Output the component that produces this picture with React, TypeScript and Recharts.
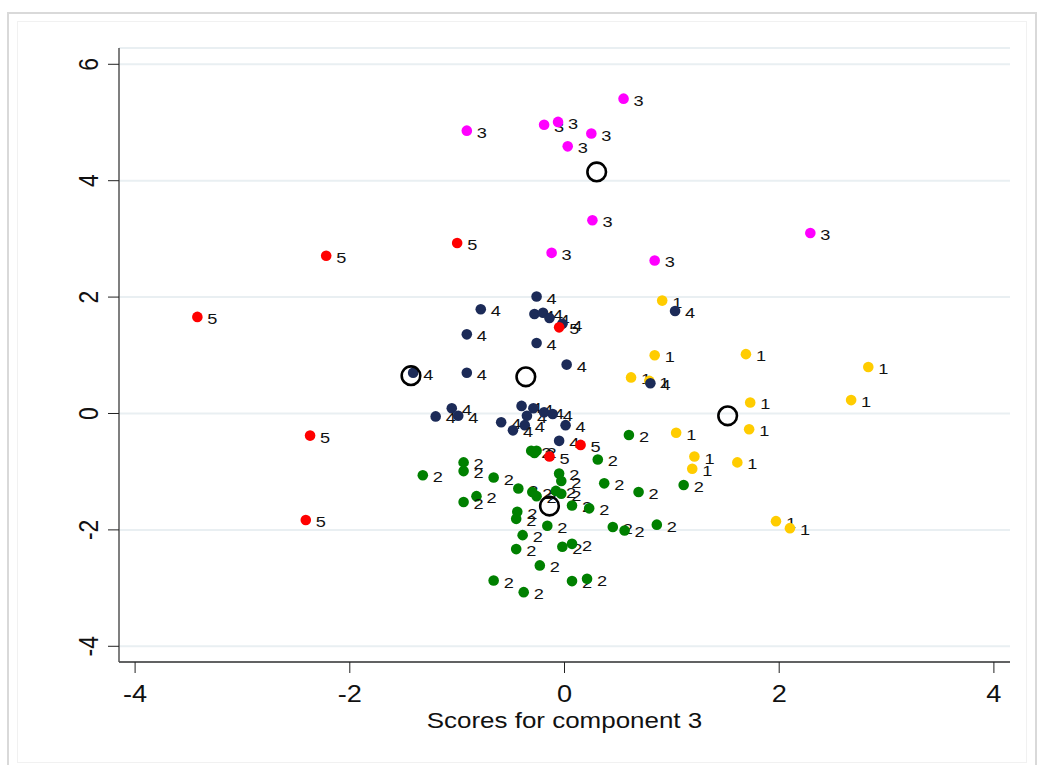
import { CartesianGrid, Scatter, ScatterChart, XAxis, YAxis } from "recharts";

// axis setup
const xTicks = [-4, -2, 0, 2, 4];
const yTicks = [-4, -2, 0, 2, 4, 6];
const xDomain = [-4.15, 4.15];
const yDomain = [-4.27, 6.28];
const xTitle = "Scores for component 3";

// cluster members, [x, y]
const cluster1 = [
  [0.91, 1.94], [0.84, 1.0], [1.69, 1.02], [2.83, 0.8], [0.62, 0.62], [0.79, 0.56],
  [1.73, 0.19], [2.67, 0.23], [1.72, -0.27], [1.04, -0.33], [1.21, -0.74], [1.19, -0.95],
  [1.61, -0.84], [1.97, -1.85], [2.1, -1.97]
];

const cluster2 = [
  [0.6, -0.37], [-0.31, -0.64], [-0.26, -0.64], [-0.28, -0.68], [0.31, -0.79], [-0.94, -0.84],
  [-0.94, -0.99], [-1.32, -1.06], [-0.66, -1.1], [-0.05, -1.03], [-0.03, -1.16], [0.37, -1.2],
  [1.11, -1.23], [-0.43, -1.29], [0.69, -1.35], [-0.3, -1.35], [-0.26, -1.42], [-0.08, -1.33],
  [-0.03, -1.38], [-0.82, -1.42], [-0.94, -1.52], [0.07, -1.58], [0.23, -1.63], [-0.44, -1.69],
  [-0.45, -1.81], [-0.16, -1.93], [0.45, -1.95], [0.56, -2.01], [0.86, -1.91], [-0.39, -2.09],
  [-0.45, -2.33], [-0.02, -2.29], [0.07, -2.24], [-0.23, -2.61], [-0.66, -2.87], [0.07, -2.88],
  [0.21, -2.84], [-0.38, -3.07]
];

const cluster3 = [
  [0.55, 5.41], [-0.91, 4.86], [-0.19, 4.96], [-0.06, 5.01], [0.25, 4.81], [0.03, 4.59],
  [0.26, 3.32], [-0.12, 2.76], [0.84, 2.63], [2.29, 3.1]
];

const cluster4 = [
  [-0.26, 2.01], [-0.78, 1.79], [-0.28, 1.71], [-0.2, 1.73], [-0.14, 1.64], [-0.02, 1.54],
  [-0.91, 1.36], [-0.26, 1.21], [0.02, 0.84], [-1.41, 0.7], [-0.91, 0.7], [1.03, 1.76],
  [0.8, 0.52], [-1.05, 0.09], [-1.2, -0.05], [-0.99, -0.04], [-0.4, 0.13], [-0.29, 0.09],
  [-0.35, -0.04], [-0.19, 0.02], [-0.11, -0.01], [-0.59, -0.15], [-0.37, -0.2], [-0.48, -0.29],
  [0.01, -0.2], [-0.05, -0.47]
];

const cluster5 = [
  [-1.0, 2.93], [-2.22, 2.71], [-3.42, 1.66], [-0.05, 1.48], [-2.37, -0.38], [-2.41, -1.83],
  [0.15, -0.54], [-0.14, -0.74]
];

const centroids = [
  [1.52, -0.04], [-0.14, -1.59], [0.3, 4.15], [-0.36, 0.63], [-1.43, 0.65]
];

const clusters = [
  { id: 1, color: "#ffcc00", points: cluster1 },
  { id: 2, color: "#008000", points: cluster2 },
  { id: 3, color: "#ff00ff", points: cluster3 },
  { id: 4, color: "#1c2b58", points: cluster4 },
  { id: 5, color: "#ff0000", points: cluster5 }
];

const FONT = "'Liberation Sans', Arial, Helvetica, sans-serif";
// the reference text is a bit wider than plain Arial
const STRETCH = 1.18;

function toRows(points: number[][], label: number) {
  return points.map(([x, y]) => ({ x, y, label }));
}

function PointMark(props: any) {
  const { cx, cy, color, payload } = props;
  if (cx == null || cy == null) return null;
  return (
    <g>
      <circle cx={cx} cy={cy} r={5.3} fill={color} />
      <text
        transform={`translate(${cx + 10},${cy + 7}) scale(${STRETCH},1)`}
        fontSize={15.4}
        fontFamily={FONT}
        fill="#111"
      >
        {payload.label}
      </text>
    </g>
  );
}

function CentroidMark(props: any) {
  const { cx, cy } = props;
  if (cx == null || cy == null) return null;
  return <circle cx={cx} cy={cy} r={9.3} fill="none" stroke="#000" strokeWidth={2.6} />;
}

function XTick(props: any) {
  const { x, y, payload } = props;
  return (
    <text
      transform={`translate(${x},${y + 27}) scale(${STRETCH},1)`}
      textAnchor="middle"
      fontSize={23}
      fontFamily={FONT}
      fill="#111"
    >
      {payload.value}
    </text>
  );
}

function YTick(props: any) {
  const { x, y, payload } = props;
  return (
    <text
      transform={`translate(${x - 8},${y}) scale(${STRETCH},1) rotate(-90)`}
      textAnchor="middle"
      fontSize={23}
      fontFamily={FONT}
      fill="#111"
    >
      {payload.value}
    </text>
  );
}

function XTitle(props: any) {
  const vb = props.viewBox || { x: 119, y: 662, width: 891 };
  const cx = vb.x + vb.width / 2;
  return (
    <text
      transform={`translate(${cx},${vb.y + 66}) scale(${STRETCH},1)`}
      textAnchor="middle"
      fontSize={22}
      fontFamily={FONT}
      fill="#111"
    >
      {xTitle}
    </text>
  );
}

export default function App() {
  return (
    <div style={{ position: "absolute", left: 0, top: 0, width: 1037, height: 765, background: "#fff", overflow: "hidden" }}>
      <div
        style={{
          position: "absolute", left: 7, top: 12, width: 1030, height: 800,
          border: "2px solid #d9d9d9", boxSizing: "border-box"
        }}
      />
      <div
        style={{
          position: "absolute", left: 17, top: 21, width: 1010, height: 742,
          border: "1px solid #f1f1f1", boxSizing: "border-box"
        }}
      />
      <div style={{ position: "absolute", left: 0, top: 0 }}>
        <ScatterChart width={1037} height={765} margin={{ top: 48, right: 27, bottom: 13, left: 19 }}>
          <CartesianGrid vertical={false} stroke="#e9eff2" strokeWidth={2} />
          <XAxis
            type="number"
            dataKey="x"
            domain={xDomain}
            ticks={xTicks}
            interval={0}
            allowDataOverflow
            height={90}
            tickSize={11}
            tick={<XTick />}
            axisLine={{ stroke: "#333", strokeWidth: 1.5 }}
            tickLine={{ stroke: "#222" }}
            label={<XTitle />}
          />
          <YAxis
            type="number"
            dataKey="y"
            domain={yDomain}
            ticks={yTicks}
            interval={0}
            allowDataOverflow
            width={100}
            tickSize={11}
            tick={<YTick />}
            axisLine={{ stroke: "#555", strokeWidth: 1.5 }}
            tickLine={{ stroke: "#222" }}
          />
          {clusters.map((c) => (
            <Scatter
              key={c.id}
              data={toRows(c.points, c.id)}
              fill={c.color}
              isAnimationActive={false}
              shape={(p: any) => <PointMark {...p} color={c.color} />}
            />
          ))}
          <Scatter
            data={toRows(centroids, 0)}
            fill="none"
            isAnimationActive={false}
            shape={(p: any) => <CentroidMark {...p} />}
          />
        </ScatterChart>
      </div>
    </div>
  );
}
